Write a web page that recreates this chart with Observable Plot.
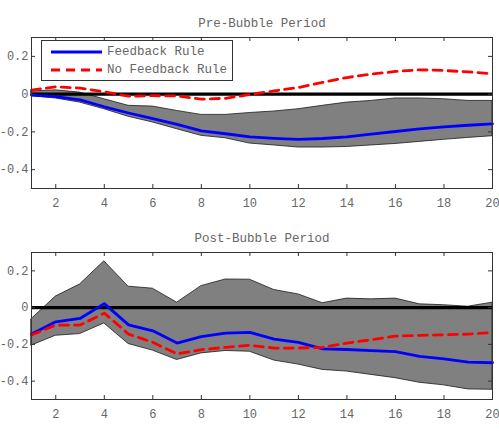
<!DOCTYPE html>
<html>
<head>
<meta charset="utf-8">
<script src="https://cdn.jsdelivr.net/npm/d3@7"></script>
<script src="https://cdn.jsdelivr.net/npm/@observablehq/plot@0.6"></script>
<style>
  html, body { margin: 0; padding: 0; background: #fff; }
  #chart { position: relative; width: 499px; height: 431px; font-family: "Liberation Mono", "DejaVu Sans Mono", monospace; }
  .panel { position: absolute; left: 0; }
  .legend { position: absolute; left: 41px; top: 40px; width: 190px; height: 39px; border: 1px solid #333; background: #fff; color: #666; font-size: 12.5px; }
  .legend .row { position: absolute; left: 0; display: flex; align-items: center; height: 14px; }
  .legend svg { margin-left: 9px; margin-right: 5px; }
</style>
</head>
<body>
<div id="chart"></div>
<script>
// Impulse responses over a 20-period horizon
const horizon = d3.range(1, 21);

// Pre-bubble period
const preFeedback   = [-0.005, -0.013, -0.030, -0.067, -0.100, -0.130, -0.160, -0.195, -0.210, -0.226,
                       -0.234, -0.240, -0.235, -0.227, -0.212, -0.198, -0.184, -0.173, -0.165, -0.158];
const preNoFeedback = [0.021, 0.039, 0.032, 0.012, -0.011, -0.008, -0.010, -0.027, -0.022, -0.002,
                       0.017, 0.035, 0.062, 0.088, 0.106, 0.120, 0.129, 0.125, 0.118, 0.108];
const preBandUpper  = [0.014, 0.020, 0.008, -0.027, -0.062, -0.066, -0.089, -0.110, -0.110, -0.100,
                       -0.092, -0.080, -0.062, -0.045, -0.036, -0.023, -0.023, -0.027, -0.036, -0.036];
const preBandLower  = [-0.010, -0.023, -0.045, -0.080, -0.120, -0.150, -0.186, -0.221, -0.234, -0.262,
                       -0.272, -0.283, -0.283, -0.280, -0.272, -0.264, -0.253, -0.242, -0.232, -0.223];

// Post-bubble period
const postFeedback   = [-0.144, -0.077, -0.059, 0.022, -0.094, -0.126, -0.193, -0.158, -0.139, -0.135,
                        -0.171, -0.189, -0.225, -0.228, -0.234, -0.240, -0.265, -0.279, -0.297, -0.300];
const postNoFeedback = [-0.149, -0.095, -0.095, -0.030, -0.144, -0.189, -0.252, -0.229, -0.216, -0.205,
                        -0.220, -0.220, -0.216, -0.193, -0.175, -0.155, -0.151, -0.148, -0.144, -0.135];
const postBandUpper  = [-0.063, 0.060, 0.126, 0.252, 0.114, 0.103, 0.027, 0.117, 0.153, 0.152,
                        0.096, 0.072, 0.024, 0.049, 0.045, 0.049, 0.018, 0.013, 0.005, 0.027];
const postBandLower  = [-0.207, -0.153, -0.144, -0.086, -0.198, -0.234, -0.285, -0.249, -0.236, -0.240,
                        -0.288, -0.310, -0.339, -0.348, -0.366, -0.384, -0.409, -0.423, -0.445, -0.447];

const xTicks = d3.range(2, 21, 2);
const yTicks = [-0.4, -0.2, 0, 0.2];
const seriesNames = ["Feedback Rule", "No Feedback Rule"];
const titles = ["Pre-Bubble Period", "Post-Bubble Period"];

const textColor = "#666";
const fontFamily = '"Liberation Mono", "DejaVu Sans Mono", monospace';
const tickLen = 4;

function panel({title, feedback, noFeedback, upper, lower, height, marginTop, marginBottom}) {
  const width = 499, marginLeft = 31, marginRight = 7;
  const frameW = width - marginLeft - marginRight;
  const frameH = height - marginTop - marginBottom;
  const rows = horizon.map((h, i) => ({h, fb: feedback[i], nfb: noFeedback[i], hi: upper[i], lo: lower[i]}));
  return Plot.plot({
    width, height, marginLeft, marginRight, marginTop, marginBottom,
    style: {fontFamily, fontSize: "12px", color: textColor, background: "#fff"},
    x: {domain: [1, 20], ticks: xTicks},
    y: {domain: [-0.5, 0.3], ticks: yTicks},
    marks: [
      // confidence band
      Plot.areaY(rows, {x: "h", y1: "lo", y2: "hi", fill: "#808080", stroke: "#1a1a1a", strokeWidth: 0.8}),
      // zero line
      Plot.ruleY([0], {stroke: "#000", strokeWidth: 3.2}),
      Plot.lineY(rows, {x: "h", y: "fb", stroke: "#0000ff", strokeWidth: 2.8}),
      Plot.lineY(rows, {x: "h", y: "nfb", stroke: "#ff0000", strokeWidth: 2.8, strokeDasharray: "9,6"}),
      // inward ticks on all four sides
      Plot.ruleX(xTicks, {stroke: "#333", insetTop: frameH - tickLen}),
      Plot.ruleX(xTicks, {stroke: "#333", insetBottom: frameH - tickLen}),
      Plot.ruleY(yTicks, {stroke: "#333", insetRight: frameW - tickLen}),
      Plot.ruleY(yTicks, {stroke: "#333", insetLeft: frameW - tickLen}),
      Plot.axisX({ticks: xTicks, tickSize: 0, tickPadding: 10, fill: textColor, fontSize: 12, label: null}),
      Plot.axisY({ticks: yTicks, tickSize: 0, tickPadding: 3, fill: textColor, fontSize: 12, label: null,
                  tickFormat: d => d === 0 ? "0" : d.toFixed(1)}),
      Plot.frame({stroke: "#333", strokeWidth: 1}),
      Plot.text([title], {frameAnchor: "top", lineAnchor: "middle", dy: -15, fill: textColor, fontSize: 12.5, fontFamily})
    ]
  });
}

const chart = document.getElementById("chart");

const prePanel = panel({title: titles[0], feedback: preFeedback, noFeedback: preNoFeedback,
                        upper: preBandUpper, lower: preBandLower, height: 215, marginTop: 37, marginBottom: 27});
prePanel.classList.add("panel");
prePanel.style.top = "0px";
chart.appendChild(prePanel);

const postPanel = panel({title: titles[1], feedback: postFeedback, noFeedback: postNoFeedback,
                         upper: postBandUpper, lower: postBandLower, height: 216, marginTop: 37, marginBottom: 32});
postPanel.classList.add("panel");
postPanel.style.top = "215px";
chart.appendChild(postPanel);

// legend box inside the upper panel
const legend = document.createElement("div");
legend.className = "legend";
const swatches = [
  {name: seriesNames[0], stroke: "#0000ff", dash: null, top: 4},
  {name: seriesNames[1], stroke: "#ff0000", dash: "9,6", top: 22}
];
for (const s of swatches) {
  const row = document.createElement("div");
  row.className = "row";
  row.style.top = s.top + "px";
  row.innerHTML = `<svg width="51" height="6"><line x1="0" y1="3" x2="51" y2="3" stroke="${s.stroke}" stroke-width="2.8"${s.dash ? ` stroke-dasharray="${s.dash}"` : ""}/></svg><span>${s.name}</span>`;
  legend.appendChild(row);
}
chart.appendChild(legend);
</script>
</body>
</html>
